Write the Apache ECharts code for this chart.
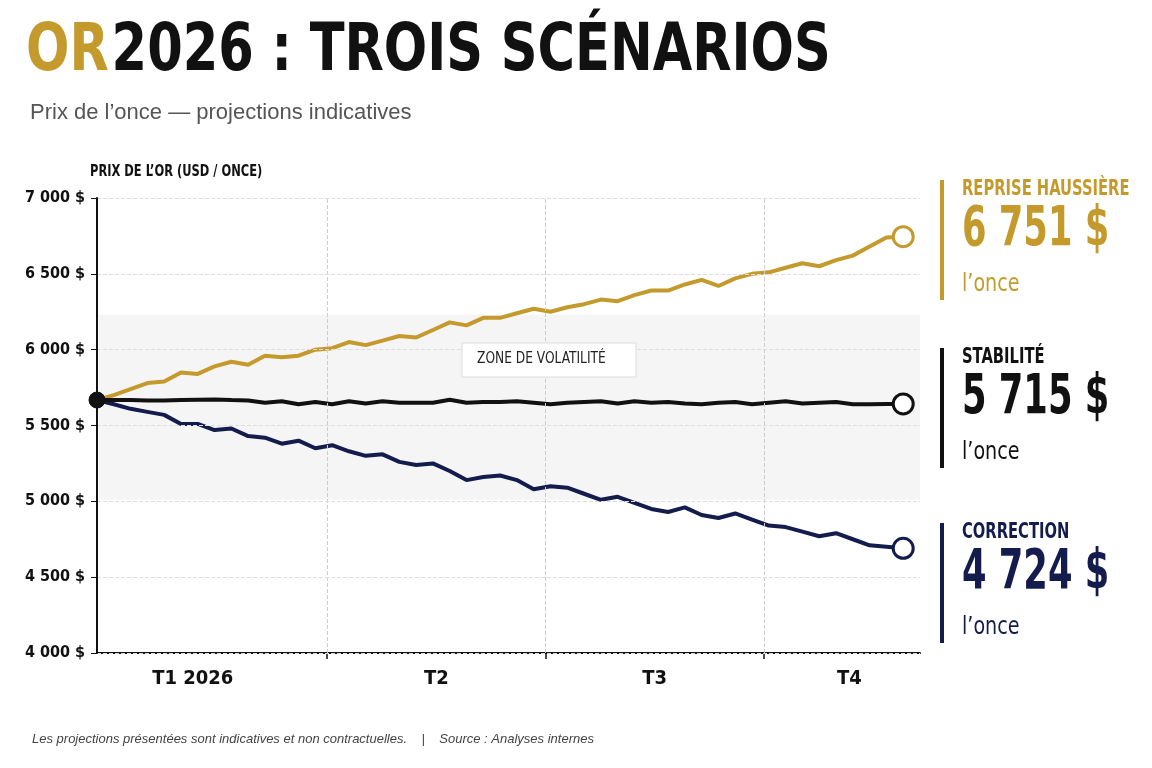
<!DOCTYPE html><html><head><meta charset="utf-8"><script src="https://cdn.jsdelivr.net/npm/echarts@6/dist/echarts.min.js"></script>
<style>html,body{margin:0;background:#fff}#c{width:1152px;height:768px}</style></head><body><div id="c"></div><script>
const weeks = Array.from({length:49},(_, i)=>i);
const haussiere = [5668,5700,5740,5780,5790,5850,5840,5890,5920,5900,5960,5950,5960,6000,6010,6050,6030,6060,6090,6080,6130,6180,6160,6210,6210,6240,6270,6250,6280,6300,6330,6320,6360,6390,6390,6430,6460,6420,6470,6500,6510,6540,6570,6550,6590,6620,6680,6740,6745];
const stabilite = [5668,5668,5668,5665,5665,5668,5670,5672,5668,5665,5650,5660,5640,5655,5640,5660,5645,5660,5650,5650,5650,5670,5650,5655,5655,5660,5650,5640,5650,5655,5660,5645,5660,5650,5655,5645,5640,5650,5655,5640,5650,5660,5645,5650,5655,5640,5640,5642,5642];
const correction = [5668,5640,5610,5590,5570,5510,5510,5470,5480,5430,5420,5380,5400,5350,5370,5330,5300,5310,5260,5240,5250,5200,5140,5160,5170,5140,5080,5100,5090,5050,5010,5030,4990,4950,4930,4960,4910,4890,4920,4880,4840,4830,4800,4770,4790,4750,4710,4700,4690];
const quarterBounds = [13.7,26.7,39.7];
const quarterLabelPos = [5.7,20.2,33.2,44.8];
const quarterLabels = ['T1 2026','T2','T3','T4'];
const zone = [5010,6230];
const C = {gold:'#C49A2C', black:'#111', navy:'#141B4D'};
const F = "'DejaVu Sans Condensed',sans-serif";
const mk = (vals,color,first)=>vals.map((v,i)=>{
  const d={value:[weeks[i],v]};
  if(i===vals.length-1) d.symbol='circle', d.symbolSize=20, d.itemStyle={color:'#fff',borderColor:color,borderWidth:3};
  if(i===0&&first) d.symbol='circle', d.symbolSize=16, d.itemStyle={color:'#111',borderColor:'#111'};
  return d;});
const fmt = v=>v.toString().replace(/\B(?=(\d{3})+(?!\d))/g,' ')+' $';
const chart = echarts.init(document.getElementById('c'));
const side = (y,color,title,val)=>[
 {type:'rect',left:940,top:y,shape:{width:4,height:120},style:{fill:color}},
 {type:'text',x:962,y:y-1,scaleX:0.78,style:{text:title,font:`bold 21px ${F}`,fill:color}},
 {type:'text',x:962,y:y+22,scaleX:0.7,style:{text:val,font:`bold 56px ${F}`,fill:color}},
 {type:'text',x:962,y:y+92,scaleX:0.85,style:{text:"l’once",font:`25px ${F}`,fill:color}}];
chart.setOption({
 animation:false,
 grid:{left:97,right:232,top:198,bottom:115},
 xAxis:{type:'value',min:0,max:49,
   axisLine:{lineStyle:{color:'#111',width:2}},
   axisTick:{show:true,customValues:quarterBounds,length:6,lineStyle:{color:'#111',width:1.5}},
   axisLabel:{customValues:quarterLabelPos,formatter:v=>quarterLabels[quarterLabelPos.indexOf(v)]||'',color:'#111',fontFamily:F,fontWeight:'bold',fontSize:20,margin:16},
   splitLine:{show:false}},
 yAxis:{type:'value',min:4000,max:7000,interval:500,z:10,
   axisLine:{show:true,lineStyle:{color:'#111',width:2}},
   axisTick:{show:true,length:6,lineStyle:{color:'#111'}},
   axisLabel:{formatter:fmt,color:'#111',fontFamily:F,fontWeight:'bold',fontSize:16,margin:12},
   splitLine:{lineStyle:{color:'#ddd',type:'dashed'}}},
 series:[
  {type:'line',data:mk(correction,C.navy,false),symbol:'none',lineStyle:{color:C.navy,width:4},itemStyle:{color:C.navy},z:3,
   markArea:{silent:true,itemStyle:{color:'#f2f2f2',opacity:0.8},data:[[{yAxis:zone[0],xAxis:0.1},{yAxis:zone[1],xAxis:49}]]},
   markLine:{silent:true,symbol:'none',label:{show:false},lineStyle:{color:'#ccc',type:'dashed',width:1},data:quarterBounds.map(x=>({xAxis:x}))}},
  {type:'line',data:mk(haussiere,C.gold,false),symbol:'none',lineStyle:{color:C.gold,width:4},itemStyle:{color:C.gold},z:3},
  {type:'line',data:mk(stabilite,C.black,true),symbol:'none',lineStyle:{color:C.black,width:4},itemStyle:{color:C.black},z:4}
 ],
 graphic:[
  {type:'text',x:26,y:20,scaleX:0.86,style:{rich:{a:{fill:C.gold,font:`bold 66px ${F}`},b:{fill:'#111',font:`bold 66px ${F}`}},text:'{a|OR} {b|2026 : TROIS SCÉNARIOS}'}},
  {type:'text',left:30,top:102,style:{text:'Prix de l’once — projections indicatives',font:"22px 'Liberation Sans',sans-serif",fill:'#555'}},
  {type:'text',x:90,y:165,scaleX:0.85,style:{text:'PRIX DE L’OR (USD / ONCE)',font:`bold 15px ${F}`,fill:'#111'}},
  {type:'rect',x:462,y:343,z:50,shape:{width:174,height:34},style:{fill:'#fff',stroke:'#ddd',lineWidth:1}},
  {type:'text',x:477,y:351,z:51,scaleX:0.85,style:{text:'ZONE DE VOLATILITÉ',font:`16px ${F}`,fill:'#222'}},
  ...side(180,C.gold,'REPRISE HAUSSIÈRE','6 751 $'),
  ...side(348,C.black,'STABILITÉ','5 715 $'),
  ...side(523,C.navy,'CORRECTION','4 724 $'),
  {type:'text',left:32,top:733,style:{text:'Les projections présentées sont indicatives et non contractuelles.    |    Source : Analyses internes',font:"italic 13px 'Liberation Sans',sans-serif",fill:'#444'}}
 ]
});
</script></body></html>
